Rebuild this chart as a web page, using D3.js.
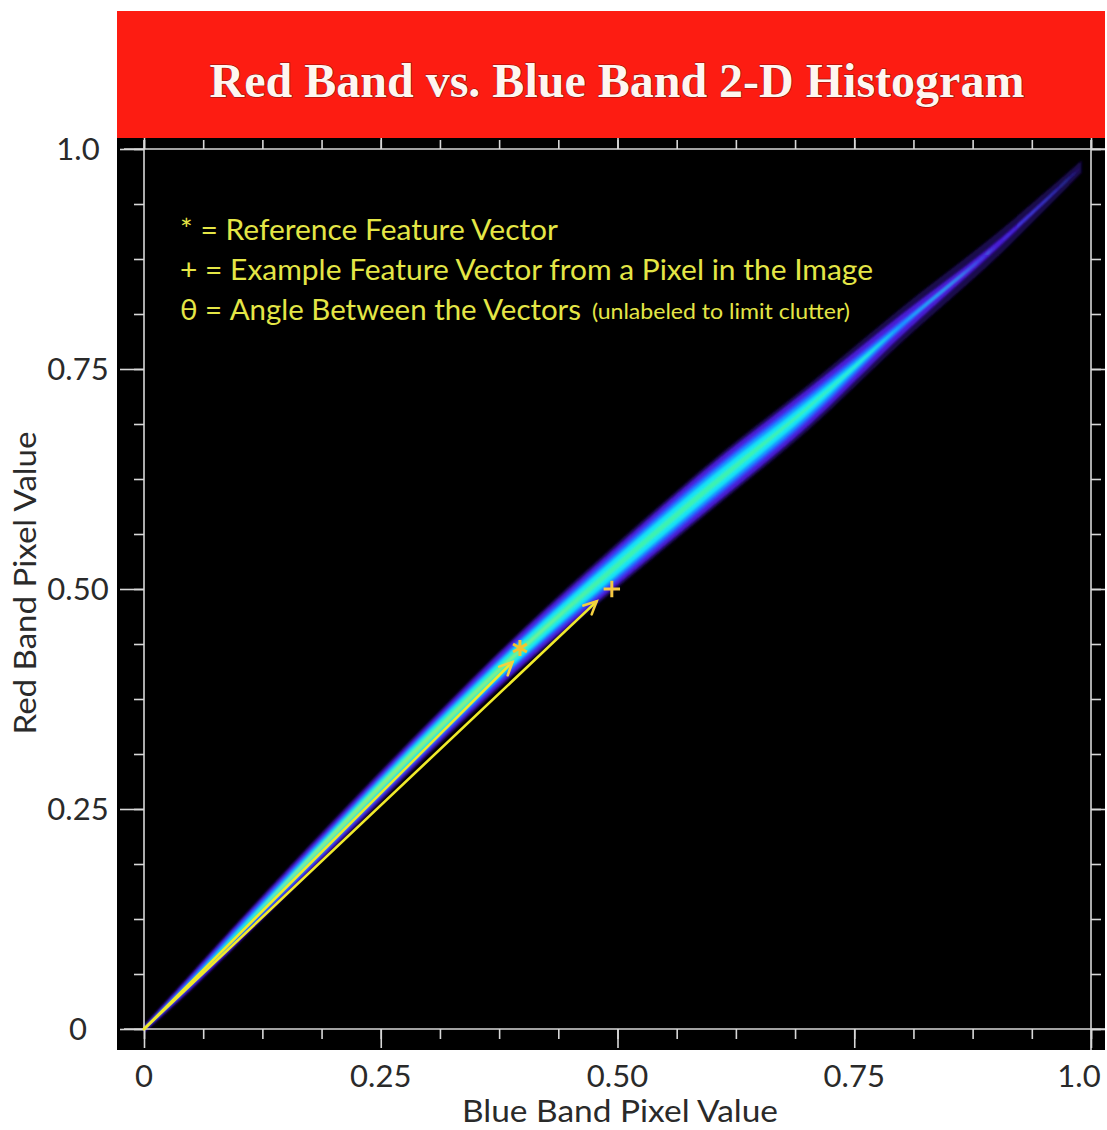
<!DOCTYPE html>
<html>
<head>
<meta charset="utf-8">
<script src="https://cdn.jsdelivr.net/npm/d3@7"></script>
<style>
  body { margin: 0; background: #fff; }
  text { font-family: Lato, "Open Sans", sans-serif; }
</style>
</head>
<body>
<div id="chart"></div>
<script>
// ridge of the 2-D histogram (blue value -> red value)
const ridgeBlue = [0, 0.05, 0.1, 0.2, 0.3, 0.4, 0.5, 0.6, 0.7, 0.8, 0.9, 0.99];
const ridgeRed  = [0, 0.054, 0.110, 0.221, 0.330, 0.433, 0.527, 0.618, 0.705, 0.80, 0.89, 0.98];

// half-thickness (red units) of each count level along the ridge
const haloWidth   = [0.005, 0.010, 0.013, 0.017, 0.019, 0.022, 0.026, 0.028, 0.026, 0.020, 0.014, 0.007];
const purpleWidth = [0.003, 0.008, 0.011, 0.014, 0.016, 0.019, 0.022, 0.024, 0.021, 0.012, 0.004, 0];
const blueWidth   = [0.001, 0.005, 0.008, 0.010, 0.012, 0.014, 0.017, 0.018, 0.015, 0.005, 0, 0];
const skyWidth    = [0, 0.002, 0.005, 0.008, 0.010, 0.011, 0.013, 0.014, 0.011, 0.002, 0, 0];
const cyanWidth   = [0, 0.001, 0.003, 0.006, 0.008, 0.009, 0.010, 0.010, 0.007, 0, 0, 0];
const greenWidth  = [0, 0, 0.001, 0.004, 0.005, 0.005, 0.004, 0.004, 0.002, 0, 0, 0];
const limeWidth   = [0, 0, 0, 0.002, 0.002, 0.001, 0, 0, 0, 0, 0, 0];

// feature vectors
const refPoint = {blue: 0.397, red: 0.433};
const examplePoint = {blue: 0.494, red: 0.500};
const refArrowTip = {blue: 0.389, red: 0.417};
const exampleArrowTip = {blue: 0.478, red: 0.486};

const majorTicks = [0, 0.25, 0.5, 0.75, 1];
const tickLabels = ["0", "0.25", "0.50", "0.75", "1.0"];
const minorTicks = d3.range(0, 1.0001, 0.0625);

const legendLines = [
  "* = Reference Feature Vector",
  "+ = Example Feature Vector from a Pixel in the Image",
  "\u03B8 = Angle Between the Vectors"
];
const legendNote = "(unlabeled to limit clutter)";

const width = 1107, height = 1130;

const svg = d3.select("#chart")
  .append("svg")
    .attr("width", width)
    .attr("height", height);

// title banner + black plot panel
svg.append("rect")
    .attr("x", 117).attr("y", 11)
    .attr("width", 988).attr("height", 127)
    .attr("fill", "#fd1c12");

svg.append("text")
    .attr("x", 617).attr("y", 97)
    .attr("text-anchor", "middle")
    .style("font-family", "'Liberation Serif', 'Times New Roman', serif")
    .attr("font-weight", "bold")
    .attr("font-size", 48)
    .attr("fill", "#fff6f0")
    .style("paint-order", "stroke")
    .attr("stroke", "#8a1410")
    .attr("stroke-width", 1.2)
    .text("Red Band vs. Blue Band 2-D Histogram");

svg.append("rect")
    .attr("x", 117).attr("y", 138)
    .attr("width", 988).attr("height", 912)
    .attr("fill", "#000");

let x = d3.scaleLinear().domain([0, 1]).range([144, 1091]);
let y = d3.scaleLinear().domain([0, 1]).range([1029, 149]);

const defs = svg.append("defs");
defs.append("filter").attr("id", "soft")
    .attr("x", "-10%").attr("y", "-10%").attr("width", "120%").attr("height", "120%")
  .append("feGaussianBlur").attr("stdDeviation", 1.3);

// histogram band, one layer per count level
const levels = [
  {w: haloWidth,   color: "#200a60", op: 0.8},
  {w: purpleWidth, color: "#4a1ad6", op: 1},
  {w: blueWidth,   color: "#2c52ff", op: 1},
  {w: skyWidth,    color: "#169eff", op: 1},
  {w: cyanWidth,   color: "#14e4f4", op: 1},
  {w: greenWidth,  color: "#3ef2b0", op: 1},
  {w: limeWidth,   color: "#9cf070", op: 1}
];

const band = svg.append("g").attr("filter", "url(#soft)");

levels.forEach(lv => {
  const pts = ridgeBlue.map((b, i) => ({b, r: ridgeRed[i], w: lv.w[i]}));
  const area = d3.area()
      .x(d => x(d.b))
      .y0(d => y(d.r - d.w))
      .y1(d => y(d.r + d.w))
      .curve(d3.curveCatmullRom);
  band.append("path")
      .attr("d", area(pts))
      .attr("fill", lv.color)
      .attr("opacity", lv.op);
});

// axes: frame lines + ticks
const axisColor = "#d8d8d8";
const frame = svg.append("g").attr("stroke", axisColor).attr("stroke-width", 1.6);
frame.append("line").attr("x1", 124).attr("x2", 1105).attr("y1", y(0)).attr("y2", y(0));
frame.append("line").attr("x1", 124).attr("x2", 1105).attr("y1", y(1)).attr("y2", y(1));
frame.append("line").attr("x1", x(0)).attr("x2", x(0)).attr("y1", 140).attr("y2", y(0));
frame.append("line").attr("x1", x(1)).attr("x2", x(1)).attr("y1", 140).attr("y2", 1050);

function styleAxis(g) {
  g.select(".domain").remove();
  g.selectAll(".tick line").attr("stroke", axisColor).attr("stroke-width", 1.6);
  g.selectAll(".tick text").remove();
}

svg.append("g").attr("transform", `translate(0,${y(0)})`)
    .call(d3.axisBottom(x).tickValues(minorTicks).tickSize(10)).call(styleAxis);
svg.append("g").attr("transform", `translate(0,${y(0)})`)
    .call(d3.axisBottom(x).tickValues(majorTicks).tickSize(19)).call(styleAxis);
svg.append("g").attr("transform", `translate(0,${y(1)})`)
    .call(d3.axisTop(x).tickValues(minorTicks).tickSize(9)).call(styleAxis);
svg.append("g").attr("transform", `translate(0,${y(1)})`)
    .call(d3.axisTop(x).tickValues(majorTicks).tickSize(11)).call(styleAxis);
svg.append("g").attr("transform", `translate(${x(0)},0)`)
    .call(d3.axisLeft(y).tickValues(minorTicks).tickSize(10)).call(styleAxis);
svg.append("g").attr("transform", `translate(${x(0)},0)`)
    .call(d3.axisLeft(y).tickValues(majorTicks).tickSize(24)).call(styleAxis);
svg.append("g").attr("transform", `translate(${x(1)},0)`)
    .call(d3.axisRight(y).tickValues(minorTicks).tickSize(10)).call(styleAxis);
svg.append("g").attr("transform", `translate(${x(1)},0)`)
    .call(d3.axisRight(y).tickValues(majorTicks).tickSize(14)).call(styleAxis);

// tick labels (the 1.0 label sits a little left of its tick, as in the original)
svg.append("g")
  .selectAll("text")
  .data(majorTicks)
  .join("text")
    .attr("x", d => Math.min(x(d), 1079))
    .attr("y", 1087)
    .attr("text-anchor", "middle")
    .attr("font-size", 31)
    .attr("fill", "#2a2a2a")
    .text((d, i) => tickLabels[i]);

svg.append("g")
  .selectAll("text")
  .data(majorTicks)
  .join("text")
    .attr("x", 78)
    .attr("y", d => y(d))
    .attr("dy", "0.36em")
    .attr("text-anchor", "middle")
    .attr("font-size", 31)
    .attr("fill", "#2a2a2a")
    .text((d, i) => tickLabels[i]);

svg.append("text")
    .attr("x", 620).attr("y", 1122)
    .attr("text-anchor", "middle")
    .attr("font-size", 30)
    .attr("fill", "#2a2a2a")
    .attr("textLength", 316)
    .attr("lengthAdjust", "spacingAndGlyphs")
    .text("Blue Band Pixel Value");

svg.append("text")
    .attr("transform", "translate(36,583) rotate(-90)")
    .attr("text-anchor", "middle")
    .attr("font-size", 30)
    .attr("fill", "#2a2a2a")
    .attr("textLength", 303)
    .attr("lengthAdjust", "spacingAndGlyphs")
    .text("Red Band Pixel Value");

// feature vectors (arrows from the origin)
const arrowColor = "#f0ea2a";
function arrow(tip) {
  const x0 = x(0), y0 = y(0), x1 = x(tip.blue), y1 = y(tip.red);
  const ang = Math.atan2(y1 - y0, x1 - x0);
  const len = 14, spread = Math.PI / 7;
  const g = svg.append("g")
      .attr("stroke", arrowColor)
      .attr("stroke-width", 2.6)
      .attr("fill", "none")
      .attr("stroke-linecap", "round");
  g.append("line")
      .attr("x1", x0).attr("y1", y0)
      .attr("x2", x1).attr("y2", y1);
  g.append("path")
      .attr("stroke", "#f4d040")
      .attr("d", d3.line()([
        [x1 - len * Math.cos(ang - spread), y1 - len * Math.sin(ang - spread)],
        [x1, y1],
        [x1 - len * Math.cos(ang + spread), y1 - len * Math.sin(ang + spread)]
      ]));
}
arrow(refArrowTip);
arrow(exampleArrowTip);

svg.append("path")
    .attr("transform", `translate(${x(refPoint.blue)},${y(refPoint.red)})`)
    .attr("d", d3.symbol(d3.symbolAsterisk, 180)())
    .attr("stroke", "#f5c22e")
    .attr("stroke-width", 3)
    .attr("fill", "none");

svg.append("path")
    .attr("transform", `translate(${x(examplePoint.blue)},${y(examplePoint.red)})`)
    .attr("d", d3.symbol(d3.symbolPlus, 90)())
    .attr("stroke", "#f6c840")
    .attr("stroke-width", 3)
    .attr("fill", "none");

// legend text
const legendColor = "#e4e646";
const legendLengths = [378, 693, 401];
svg.append("g")
  .selectAll("text")
  .data(legendLines)
  .join("text")
    .attr("x", 180)
    .attr("y", (d, i) => 240 + i * 40)
    .attr("font-size", 28)
    .attr("fill", legendColor)
    .attr("textLength", (d, i) => legendLengths[i])
    .attr("lengthAdjust", "spacingAndGlyphs")
    .text(d => d);

svg.append("text")
    .attr("x", 592).attr("y", 319)
    .attr("font-size", 21)
    .attr("fill", legendColor)
    .attr("textLength", 258)
    .attr("lengthAdjust", "spacingAndGlyphs")
    .text(legendNote);
</script>
</body>
</html>
